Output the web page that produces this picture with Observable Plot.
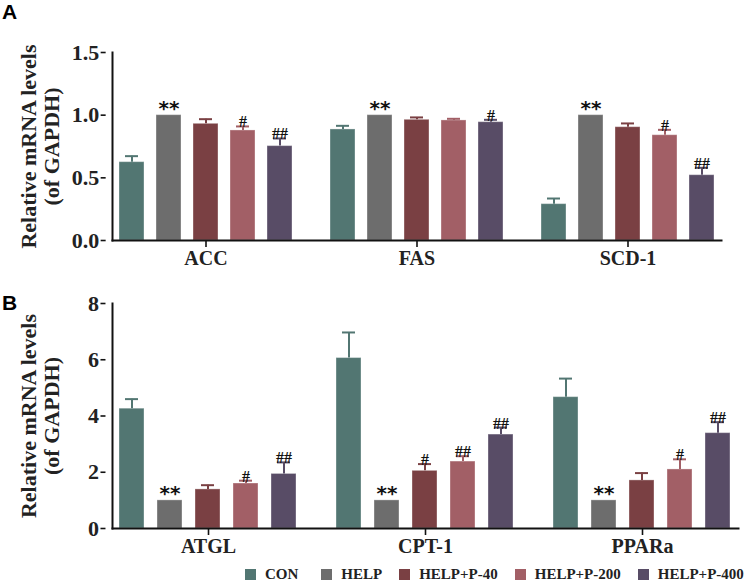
<!DOCTYPE html>
<html><head><meta charset="utf-8">
<script src="https://cdn.jsdelivr.net/npm/d3@7"></script>
<script src="https://cdn.jsdelivr.net/npm/@observablehq/plot@0.6"></script>
<style>
body{margin:0;background:#fff;width:747px;height:582px;overflow:hidden;position:relative;}
.panel{position:relative;}
.panel svg{display:block;}
.panel svg g[aria-label="y-axis tick label"]{font-size:22px;}
.panel svg g[aria-label="fx-axis tick label"]{font-size:20px;}
.plabel{position:absolute;left:2px;font:bold 21px "Liberation Sans",Arial,sans-serif;color:#000;line-height:1;}
#legend{display:flex;align-items:center;margin-left:245px;width:502px;padding-top:8px;font:bold 15px "Liberation Serif",serif;color:#222;white-space:nowrap;}
#legend .item{display:flex;align-items:center;margin-right:17px;flex-shrink:0;}
#legend .item:first-child{margin-right:23px;}
#legend .item:last-child{margin-right:0;}
#legend .sw{width:11px;height:11px;margin-right:9px;flex-shrink:0;}
</style></head><body>
<div id="root"></div>
<script>
// ---- data ----
const groups = ["CON", "HELP", "HELP+P-40", "HELP+P-200", "HELP+P-400"];
const groupColors = ["#527672", "#6D6D6D", "#7A4043", "#A25F66", "#584C66"];

const genesA = ["ACC", "FAS", "SCD-1"];
const accMean = [0.625, 1.00, 0.931, 0.878, 0.753];
const accSem  = [0.048, 0, 0.037, 0.032, 0.061];
const accSig  = ["", "**", "", "#", "##"];
const fasMean = [0.886, 1.00, 0.963, 0.958, 0.944];
const fasSem  = [0.029, 0, 0.019, 0.013, 0.019];
const fasSig  = ["", "**", "", "", "#"];
const scdMean = [0.290, 1.00, 0.904, 0.840, 0.521];
const scdSem  = [0.045, 0, 0.030, 0.043, 0.059];
const scdSig  = ["", "**", "", "#", "##"];
const yTicksA = [0, 0.5, 1.0, 1.5];

const genesB = ["ATGL", "CPT-1", "PPARa"];
const atglMean = [4.26, 1.00, 1.39, 1.60, 1.94];
const atglSem  = [0.34, 0, 0.15, 0.10, 0.41];
const atglSig  = ["", "**", "", "#", "##"];
const cptMean  = [6.06, 1.00, 2.05, 2.38, 3.34];
const cptSem   = [0.91, 0, 0.24, 0.19, 0.25];
const cptSig   = ["", "**", "#", "##", "##"];
const pparMean = [4.67, 1.00, 1.71, 2.10, 3.39];
const pparSem  = [0.66, 0, 0.26, 0.36, 0.39];
const pparSig  = ["", "**", "", "#", "##"];
const yTicksB = [0, 2, 4, 6, 8];

const yTitle = "Relative mRNA levels\n(of GAPDH)";

function rows(genes, means, sems, sigs) {
  const out = [];
  genes.forEach((g, gi) => groups.forEach((grp, bi) => out.push({
    gene: g, group: grp, mean: means[gi][bi], sem: sems[gi][bi], sig: sigs[gi][bi]
  })));
  return out;
}

function panel({data, genes, yDomain, yTicks, fmt, height, marginTop, marginBottom, marginRight}) {
  const withErr = data.filter(d => d.sem > 0);
  const stars = data.filter(d => d.sig.startsWith("*"));
  const hashes = data.filter(d => d.sig.startsWith("#"));
  const padOuter = 0.03, padInner = 0.115;
  const step = (747 - 105 - marginRight) / (genes.length - padInner + 2 * padOuter);
  const shift = -padOuter * step;
  return Plot.plot({
    width: 747, height, marginTop, marginBottom, marginLeft: 105, marginRight,
    style: {fontFamily: "Liberation Serif, serif", fontWeight: "bold", fontSize: "20px", color: "#222", background: "white"},
    fx: {domain: genes, paddingInner: padInner, paddingOuter: padOuter, label: null, axis: null},
    x: {domain: groups, paddingInner: 1/3, paddingOuter: 1/6, axis: null},
    y: {domain: yDomain, axis: null},
    color: {domain: groups, range: groupColors},
    marks: [
      Plot.barY(data, {fx: "gene", x: "group", y: "mean", fill: "group", stroke: "white", strokeOpacity: 0.35, strokeWidth: 1}),
      Plot.ruleX(withErr, {fx: "gene", x: "group", y1: "mean", y2: d => d.mean + d.sem, stroke: "group", strokeWidth: 2}),
      Plot.tickY(withErr, {fx: "gene", x: "group", y: d => d.mean + d.sem, stroke: "group", strokeWidth: 2, insetLeft: 6, insetRight: 6}),
      Plot.text(stars, {fx: "gene", x: "group", y: d => d.mean + d.sem, text: "sig", fontFamily: "DejaVu Sans", fontWeight: "bold", fontSize: 20, lineAnchor: "bottom", dy: 0, fill: "#111"}),
      Plot.text(hashes, {fx: "gene", x: "group", y: d => d.mean + d.sem, text: "sig", fontFamily: "Liberation Serif", fontWeight: "bold", fontSize: 16, lineAnchor: "bottom", dy: 1, fill: "#111"}),
      Plot.axisFx({anchor: "bottom", tickSize: 7, tickPadding: 3, fontSize: 20, label: null, stroke: "#111", strokeWidth: 1.6}),
      Plot.frame({facet: "super", anchor: "left", stroke: "#111", strokeWidth: 2}),
      Plot.frame({facet: "super", anchor: "bottom", stroke: "#111", strokeWidth: 2}),
      Plot.axisY({ticks: yTicks, tickFormat: fmt, tickSize: 5, tickPadding: 2, fontSize: 22, label: null, stroke: "#111", strokeWidth: 1.6, dx: shift}),
      Plot.text([yTitle], {facet: "super", frameAnchor: "left", textAnchor: "middle", rotate: -90, dx: -72, fontSize: 22, lineHeight: 1.05, fill: "#222"})
    ]
  });
}

const dataA = rows(genesA, [accMean, fasMean, scdMean], [accSem, fasSem, scdSem], [accSig, fasSig, scdSig]);
const dataB = rows(genesB, [atglMean, cptMean, pparMean], [atglSem, cptSem, pparSem], [atglSig, cptSig, pparSig]);

const root = document.getElementById("root");
function addPanel(label, svg, labelTop) {
  const div = document.createElement("div");
  div.className = "panel";
  const l = document.createElement("div");
  l.className = "plabel"; l.textContent = label; l.style.top = labelTop + "px";
  div.appendChild(svg); div.appendChild(l);
  root.appendChild(div);
}
addPanel("A", panel({data: dataA, genes: genesA, yDomain: [0, 1.5], yTicks: yTicksA, fmt: d3.format(".1f"),
  height: 272, marginTop: 52, marginBottom: 32, marginRight: 19}), 1);
addPanel("B", panel({data: dataB, genes: genesB, yDomain: [0, 8], yTicks: yTicksB, fmt: d3.format("d"),
  height: 286, marginTop: 31, marginBottom: 30, marginRight: 2}), 20);

const legend = document.createElement("div");
legend.id = "legend";
groups.forEach((g, i) => {
  const it = document.createElement("div"); it.className = "item";
  const sw = document.createElement("div"); sw.className = "sw"; sw.style.background = groupColors[i];
  const tx = document.createElement("span"); tx.textContent = g;
  it.appendChild(sw); it.appendChild(tx); legend.appendChild(it);
});
root.appendChild(legend);
</script>
</body></html>
